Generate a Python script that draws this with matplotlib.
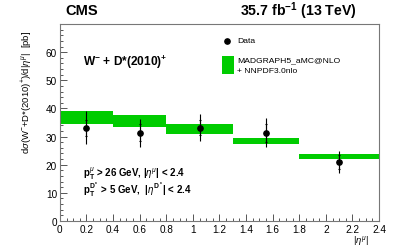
import matplotlib
matplotlib.use("Agg")
import matplotlib.pyplot as plt
import numpy as np
from matplotlib.lines import Line2D
from matplotlib.patches import Rectangle
from matplotlib.ticker import MultipleLocator

plt.rcParams["font.family"] = ["Liberation Sans", "DejaVu Sans"]
plt.rcParams["mathtext.fontset"] = "custom"
plt.rcParams["mathtext.rm"] = "Liberation Sans"
plt.rcParams["mathtext.it"] = "Liberation Sans:italic"
plt.rcParams["mathtext.bf"] = "Liberation Sans:bold"

# bins in |eta^mu|
bin_edges = [0.0, 0.4, 0.8, 1.3, 1.8, 2.4]
# MC prediction band (low, high) in pb
mc_lo = [34.3, 33.5, 31.1, 27.3, 21.9]
mc_hi = [39.2, 37.6, 34.4, 29.5, 23.9]
# data points
data_x = [0.2, 0.6, 1.05, 1.55, 2.1]
data_y = [33.1, 31.3, 33.2, 31.4, 21.0]
data_err_tot = [5.9, 4.9, 4.8, 5.2, 4.0]
data_err_stat = [2.9, 3.0, 2.8, 3.2, 2.5]

green = "#00cc00"

fig = plt.figure(figsize=(3.99, 2.53), dpi=100)
ax = fig.add_axes([0.150, 0.1225, 0.800, 0.7785])

edges = np.array(bin_edges)
widths = np.diff(edges)
lo = np.array(mc_lo)
hi = np.array(mc_hi)
ax.bar(edges[:-1], hi - lo, width=widths, bottom=lo, align="edge",
       color=green, linewidth=0, zorder=2)

ax.errorbar(data_x, data_y, yerr=data_err_tot, fmt="none", ecolor="black",
            elinewidth=0.8, capsize=0, zorder=3)
ax.errorbar(data_x, data_y, yerr=data_err_stat, fmt="none", ecolor="black",
            elinewidth=0.8, capsize=1.0, capthick=0.8, zorder=3)
ax.plot(data_x, data_y, "o", color="black", markersize=3.8, zorder=4)

ax.set_xlim(0, 2.4)
ax.set_ylim(0, 70)
ax.xaxis.set_minor_locator(MultipleLocator(0.05))
ax.yaxis.set_minor_locator(MultipleLocator(2))
ax.set_yticks([0, 10, 20, 30, 40, 50, 60])
ax.set_xticks(np.round(np.arange(0, 2.41, 0.2), 1))
ax.set_xticklabels(["0", "0.2", "0.4", "0.6", "0.8", "1", "1.2", "1.4",
                    "1.6", "1.8", "2", "2.2", "2.4"])
ax.tick_params(which="both", direction="in", labelsize=7.2, color="#555555",
               width=0.7, pad=2)
ax.tick_params(which="major", length=5)
ax.tick_params(which="minor", length=2.5)
for s in ax.spines.values():
    s.set_color("#777777")
    s.set_linewidth(0.8)

fig.text(0.068, 0.88, r"d$\sigma$(W$^{-}$+D*(2010)$^{+}$)/d|$\eta^{\mu}$|  [pb]",
         rotation=90, ha="center", va="top", fontsize=6.8)
fig.text(0.905, 0.075, r"|$\eta^{\mu}$|", ha="center", va="top", fontsize=6.8)

fig.text(0.163, 0.955, "CMS", fontsize=10.5, fontweight="bold", ha="left", va="center")
fig.text(0.895, 0.955, r"35.7 fb$^{\mathbf{-1}}$ (13 TeV)", fontsize=10.2,
         fontweight="bold", ha="right", va="center")

fig.text(0.208, 0.755, r"W$^{\mathbf{-}}$ + D*(2010)$^{\mathbf{+}}$", fontsize=8.6,
         fontweight="bold", ha="left", va="center")
fig.text(0.208, 0.315, r"p$_{\mathbf{T}}^{\mu}$ > 26 GeV, |$\eta^{\mu}$| < 2.4",
         fontsize=7.0, fontweight="bold", ha="left", va="center")
fig.text(0.208, 0.248, r"p$_{\mathbf{T}}^{\mathbf{D^*}}$ > 5 GeV,  |$\eta^{\mathbf{D^*}}$| < 2.4",
         fontsize=7.0, fontweight="bold", ha="left", va="center")

# legend, drawn by hand in figure coordinates
fig.add_artist(Line2D([0.568], [0.834], marker="o", color="black",
                      markersize=3.8, linestyle="none", transform=fig.transFigure))
fig.text(0.594, 0.834, "Data", fontsize=6.1, ha="left", va="center")
fig.add_artist(Rectangle((0.556, 0.704), 0.030, 0.071, facecolor=green,
                         edgecolor="none", transform=fig.transFigure))
fig.text(0.594, 0.758, "MADGRAPH5_aMC@NLO", fontsize=6.1, ha="left", va="center")
fig.text(0.594, 0.718, "+ NNPDF3.0nlo", fontsize=6.1, ha="left", va="center")

fig.savefig("out.png", dpi=100)
